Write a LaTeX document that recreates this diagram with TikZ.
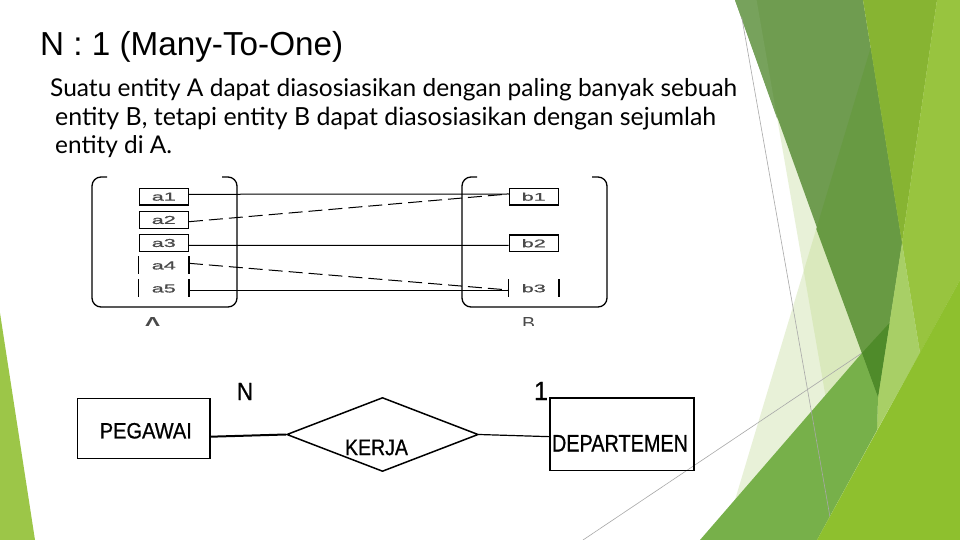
\documentclass[tikz,border=0pt]{standalone}
\usepackage{fontspec}
\setmainfont{Liberation Sans}
\newfontfamily\bodyfont{Lato}
\newfontfamily\erfont[FakeBold=0.8]{Liberation Sans}
\usetikzlibrary{shapes.geometric}
\definecolor{olive}{HTML}{6F9C50}
\definecolor{oliveL}{HTML}{77A25C}
\definecolor{oliveD}{HTML}{689A43}
\definecolor{ygreen}{HTML}{87B432}
\definecolor{rlime}{HTML}{98C43F}
\definecolor{plime}{HTML}{A8CF66}
\definecolor{vpale}{HTML}{E8F1D8}
\definecolor{pale}{HTML}{DAE9BD}
\definecolor{mgreen}{HTML}{77B04A}
\definecolor{dgreen}{HTML}{4F8B2A}
\definecolor{lime}{HTML}{8EC02E}
\definecolor{leftg}{HTML}{9CC648}
\definecolor{thin}{HTML}{A8A8A8}
\definecolor{lblgray}{HTML}{4A4A4A}
\newcommand\elab[2]{\resizebox{#1bp}{8bp}{\erfont\fontsize{10}{10}\selectfont #2}}
\begin{document}
\begin{tikzpicture}[x=1bp,y=-1bp,
  elem/.style={minimum width=49bp, minimum height=16.7bp, inner sep=0pt, line width=1.3bp, text=lblgray},
  boxed/.style={elem, draw},
  conn/.style={line width=1bp},
  dconn/.style={line width=1bp, dash pattern=on 14bp off 6bp},
  setline/.style={line width=1.3bp, rounded corners=9bp},
  bar/.style={line width=1.3bp},
  ent/.style={draw, line width=1.5bp, inner sep=0pt},
  txt/.style={inner sep=0pt},
  thinline/.style={draw=thin, line width=0.6bp}]
\useasboundingbox (0,0) rectangle (960,540);
\fill[white] (0,0) rectangle (960,540);

% ---- background facets ----
\fill[vpale] (756.6,0) -- (960,0) -- (960,540) -- (723,540) -- (803.7,270.9) -- cycle;
\fill[pale] (885,0) -- (960,0) -- (960,540) -- (850.6,540) -- (803.7,270.9) -- cycle;
\draw[thinline] (583,540) -- (862,353);
\fill[olive] (735,0) -- (863,0) -- (902,243) -- (878,397) -- cycle;
\fill[oliveL] (735,0) -- (756.6,0) -- (777.3,119) -- cycle;
\fill[oliveD] (870.7,47.8) -- (902,243) -- (878,397) -- (816.3,229) -- cycle;
\fill[ygreen] (863,0) -- (937,0) -- (902,243) -- cycle;
\fill[rlime] (937,0) -- (960,0) -- (960,280) -- (920,353) -- (902,243) -- cycle;
\fill[plime] (902,243) -- (920,353) -- (877,430) -- (878,397) -- cycle;
\fill[mgreen] (700,540) -- (862,353) -- (878,397) -- (877,430) -- (817,540) -- cycle;
\fill[dgreen] (862,353) -- (889.5,323) -- (878,397) -- cycle;
\draw[thinline] (741.7,17) -- (830,517);
\fill[lime] (817,540) -- (960,280) -- (960,540) -- cycle;
\fill[leftg] (0,313) -- (35,540) -- (0,540) -- cycle;

% ---- title and text ----
\node[txt, anchor=base west] (title) at (40,56)
  {\resizebox{303bp}{!}{\fontsize{32}{32}\selectfont N : 1 (Many-To-One)}};
\node[txt, anchor=base west] (line1) at (50,97)
  {\resizebox{687bp}{!}{\bodyfont\fontsize{20}{20}\selectfont Suatu entity A dapat diasosiasikan dengan paling banyak sebuah}};
\node[txt, anchor=base west] (line2) at (55,125.5)
  {\resizebox{661bp}{!}{\bodyfont\fontsize{20}{20}\selectfont entity B, tetapi entity B dapat diasosiasikan dengan sejumlah}};
\node[txt, anchor=base west] (line3) at (55,154)
  {\resizebox{117bp}{!}{\bodyfont\fontsize{20}{20}\selectfont entity di A.}};

% ---- mapping diagram ----
\draw[setline] (107,177) -- (92,177) -- (92,307) -- (237,307) -- (237,177) -- (222,177);
\draw[setline] (477,177) -- (462,177) -- (462,307) -- (607,307) -- (607,177) -- (592,177);

\node[boxed] (a1) at (163.8,196.7) {\elab{24}{a1}};
\node[boxed] (a2) at (163.8,220) {\elab{24}{a2}};
\node[boxed] (a3) at (163.8,243) {\elab{24}{a3}};
\node[elem] (a4) at (163.8,265.5) {\elab{24}{a4}};
\node[elem] (a5) at (163.8,288.5) {\elab{24}{a5}};
\node[boxed] (b1) at (533.8,196.7) {\elab{24}{b1}};
\node[boxed] (b2) at (533.8,243.3) {\elab{24}{b2}};
\node[elem] (b3) at (533.8,288.3) {\elab{24}{b3}};
\draw[bar] (a4.north west) -- (a4.south west) (a4.north east) -- (a4.south east);
\draw[bar] (a5.north west) -- (a5.south west) (a5.north east) -- (a5.south east);
\draw[bar] (b3.north west) -- (b3.south west) (b3.north east) -- (b3.south east);

\draw[conn] ([yshift=2.4bp]a1.east) -- ([yshift=2.7bp]b1.west);
\draw[dconn] ([yshift=-1.7bp]a2.east) -- ([yshift=2.7bp]b1.west);
\draw[conn] ([yshift=-2.5bp]a3.east) -- ([yshift=-2bp]b2.west);
\draw[dconn] ([yshift=2.2bp]a4.east) -- ([yshift=-1.7bp]b3.west);
\draw[conn] ([yshift=-2.5bp]a5.east) -- ([yshift=-2.7bp]b3.west);

\begin{scope}
  \clip (120,312) rectangle (620,325.5);
  \node[txt, anchor=north, text=lblgray] (setA) at (152.5,317) {\resizebox{24bp}{17bp}{A}};
  \node[txt, anchor=north, text=lblgray] (setB) at (528.5,317) {\resizebox{13bp}{12bp}{B}};
\end{scope}

% ---- ER diagram ----
\node[ent, minimum width=132.7bp, minimum height=60bp] (peg) at (143.7,428.3) {};
\node[txt] (pegt) at (145.8,430.8) {\resizebox{92bp}{15.5bp}{\erfont PEGAWAI}};
\node[ent, diamond, minimum width=191.6bp, minimum height=74bp] (kerja) at (382.5,434.5) {};
\node[txt] (kerjat) at (376.5,447.5) {\resizebox{63bp}{15.5bp}{\erfont KERJA}};
\node[ent, minimum width=144bp, minimum height=72.5bp] (dept) at (622,434.25) {};
\node[txt] (deptt) at (620,443.3) {\resizebox{136bp}{16.5bp}{\erfont DEPARTEMEN}};
\node[txt] (cardN) at (245,391.5) {\resizebox{16bp}{17bp}{\erfont N}};
\node[txt] (card1) at (541,391) {\resizebox{14bp}{18bp}{\erfont 1}};
\draw[line width=2bp] ([yshift=-8.4bp]peg.east) -- (kerja.west);
\draw[line width=1.2bp] (kerja.east) -- ([yshift=-2.4bp]dept.west);
\end{tikzpicture}
\end{document}
